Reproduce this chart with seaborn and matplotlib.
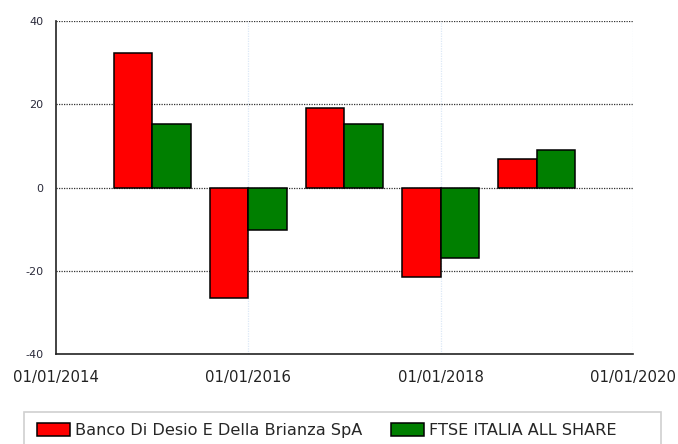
import matplotlib

matplotlib.use("Agg")
import matplotlib.pyplot as plt
import pandas as pd
import seaborn as sns
from matplotlib.patches import Rectangle

# values (annual performance, %)
years = [2015, 2016, 2017, 2018, 2019]
banco = [32.4, -26.5, 19.1, -21.4, 6.9]
ftse = [15.3, -10.1, 15.2, -16.8, 8.9]
series_names = ["Banco Di Desio E Della Brianza SpA", "FTSE ITALIA ALL SHARE"]
x_ticks = [2014, 2016, 2018, 2020]
x_tick_labels = ["01/01/2014", "01/01/2016", "01/01/2018", "01/01/2020"]
y_ticks = [-40, -20, 0, 20, 40]

df = pd.DataFrame(
    {
        "year": years + years,
        "value": banco + ftse,
        "series": [series_names[0]] * len(years) + [series_names[1]] * len(years),
    }
)

sns.set_style("white")
plt.rcParams["font.family"] = ["DejaVu Sans"]

fig = plt.figure(figsize=(6.78, 4.44), dpi=100)
ax = fig.add_axes([0.0826, 0.202, 0.8509, 0.751])

sns.barplot(
    data=df,
    x="year",
    y="value",
    hue="series",
    hue_order=series_names,
    palette=["#ff0000", "#007f00"],
    native_scale=True,
    width=0.8,
    saturation=1,
    edgecolor="black",
    linewidth=1.1,
    ax=ax,
)

ax.set_xlim(2014, 2020)
ax.set_ylim(-40, 40)
ax.set_xticks(x_ticks)
ax.set_xticklabels(x_tick_labels, fontsize=10.7, color="#222222")
ax.set_yticks(y_ticks)
ax.set_yticklabels([str(v) for v in y_ticks], fontsize=8, color="#2a2a3a")
ax.set_xlabel("")
ax.set_ylabel("")

ax.tick_params(axis="both", length=7, width=1, color="#d6e4f5", pad=2)
ax.tick_params(axis="x", pad=4)

# grid: dotted dark horizontals, faint blue verticals
for y in [-20, 0, 20, 40]:
    ax.axhline(y, color="#333333", linestyle=(0, (1, 1)), linewidth=0.9, zorder=0.5)
for x in x_ticks[1:]:
    ax.axvline(x, color="#dce8f7", linestyle=(0, (1, 1)), linewidth=0.9, zorder=0.4)

for side in ["top", "right"]:
    ax.spines[side].set_visible(False)
for side in ["left", "bottom"]:
    ax.spines[side].set_color("#222222")
    ax.spines[side].set_linewidth(1.2)

handles, labels = ax.get_legend_handles_labels()
ax.get_legend().remove()

# legend box, cut off by the bottom edge like in the source
fig.add_artist(
    Rectangle(
        (24 / 678, -0.05),
        637 / 678,
        32 / 444 + 0.05,
        transform=fig.transFigure,
        facecolor="white",
        edgecolor="#d0d0d0",
        linewidth=1.2,
    )
)
fig.legend(
    handles,
    labels,
    loc="upper left",
    bbox_to_anchor=(37 / 678, 1 - 423 / 444),
    ncol=2,
    frameon=False,
    fontsize=11.6,
    handlelength=2.05,
    handleheight=0.9,
    handletextpad=0.3,
    columnspacing=1.8,
    borderpad=0,
    borderaxespad=0,
)

fig.savefig("out.png", dpi=100)
